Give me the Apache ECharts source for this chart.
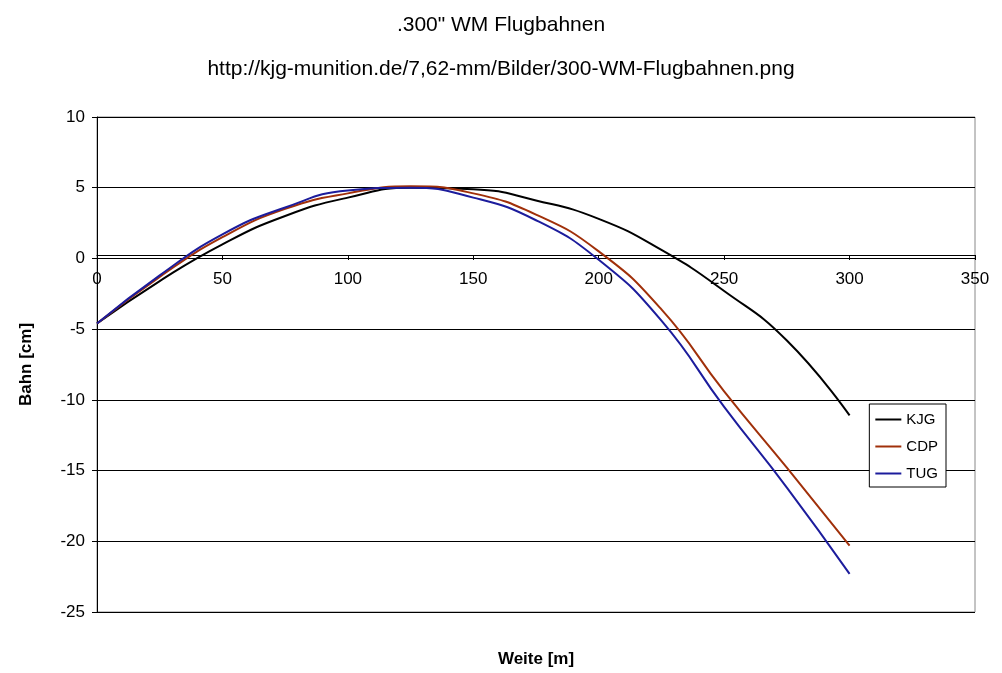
<!DOCTYPE html><html><head><meta charset="utf-8"><script src="https://cdn.jsdelivr.net/npm/echarts@6/dist/echarts.min.js"></script></head><body style="margin:0;background:#fff"><div id="c" style="width:1002px;height:673px"></div><script>
const xs=[0,25,50,75,100,125,150,175,200,225,250,275,300];
const kjg=[-4.6,-1.6,1.0,3.0,4.3,5.0,4.9,4.1,2.8,0.6,-2.3,-5.8,-11.1];
const cdp=[-4.6,-1.3,1.5,3.5,4.6,5.1,4.6,3.1,0.5,-3.6,-9.4,-14.8,-20.3];
const tug=[-4.6,-1.2,1.7,3.6,4.8,5.0,4.3,2.7,-0.1,-4.4,-10.5,-16.2,-22.3];
const yTicks=[-25,-20,-15,-10,-5,0,5,10];
const mk=a=>xs.map((x,i)=>[x,a[i]]);
const F='Arial, Liberation Sans';
const ser=(n,d,c)=>({name:n,type:'line',data:mk(d),smooth:0.5,showSymbol:false,lineStyle:{color:c,width:2},itemStyle:{color:c}});
echarts.init(document.getElementById('c')).setOption({
animation:false,
title:[{text:'.300" WM Flugbahnen',left:'center',top:10,textStyle:{fontFamily:F,fontSize:21,fontWeight:'normal',color:'#000'}},
{text:'http://kjg-munition.de/7,62-mm/Bilder/300-WM-Flugbahnen.png',left:'center',top:54,textStyle:{fontFamily:F,fontSize:21,fontWeight:'normal',color:'#000'}}],
grid:{left:97,right:27,top:117,bottom:57,show:true,borderColor:'#888',borderWidth:1},
legend:{orient:'vertical',right:56,top:404,itemWidth:26,itemHeight:2,itemGap:12,backgroundColor:'#fff',borderColor:'#000',borderWidth:1,padding:[8,8,6,6],icon:'rect',textStyle:{fontFamily:F,fontSize:15,color:'#000'}},
xAxis:{type:'value',min:0,max:350,interval:50,offset:-357,name:'Weite [m]',nameLocation:'middle',nameGap:396,nameTextStyle:{fontFamily:F,fontSize:17,fontWeight:'bold',color:'#000'},axisLine:{onZero:false,lineStyle:{color:'#000'}},axisTick:{show:true,length:5},axisLabel:{margin:16,fontFamily:F,fontSize:17,color:'#000'},splitLine:{show:false}},
yAxis:{type:'value',min:-25,max:10,interval:5,name:'Bahn [cm]',nameLocation:'middle',nameGap:62,nameTextStyle:{fontFamily:F,fontSize:17,fontWeight:'bold',color:'#000'},axisLine:{show:true,lineStyle:{color:'#000'}},axisTick:{show:true,length:5},axisLabel:{fontFamily:F,fontSize:17,color:'#000',margin:12},splitLine:{lineStyle:{color:'#000'}}},
series:[ser('KJG',kjg,'#000000'),ser('CDP',cdp,'#a0300a'),ser('TUG',tug,'#1c1c9c')]
});
</script></body></html>
